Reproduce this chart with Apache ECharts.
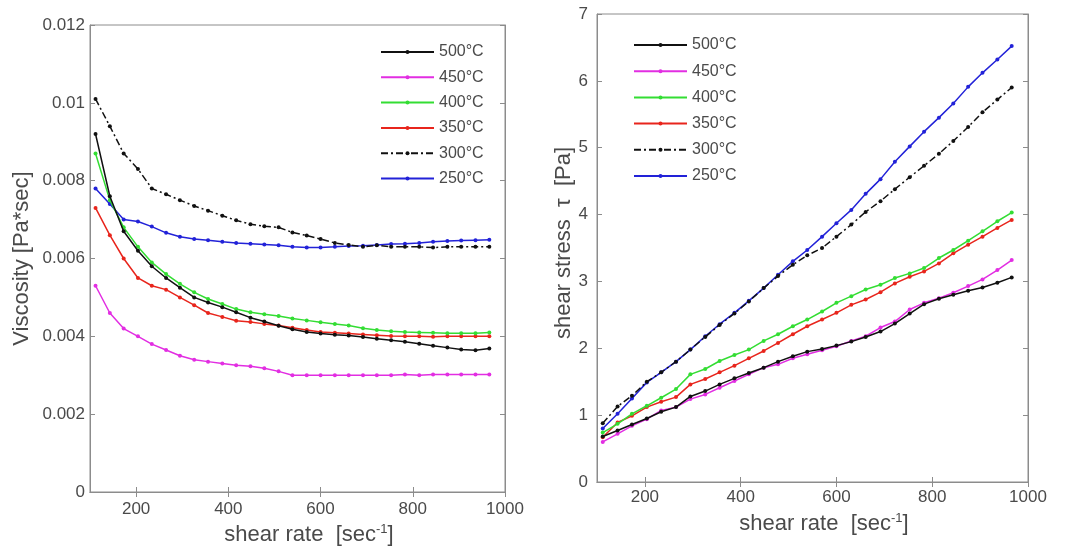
<!DOCTYPE html>
<html>
<head>
<meta charset="utf-8">
<script src="https://cdn.jsdelivr.net/npm/echarts@6/dist/echarts.min.js"></script>
<style>
  html, body { margin: 0; padding: 0; background: #fff; }
  #chart { width: 1070px; height: 554px; }
</style>
</head>
<body>
<div id="chart"></div>
<script>
// Shear rates at which both viscosity and shear stress were measured [1/s]
const shearRate = [112,143,173,204,234,265,295,326,356,387,417,448,478,509,539,570,600,631,661,692,722,753,783,814,844,875,905,936,966];

// Legend / series names (processing temperature)
const temps = ['500°C','450°C','400°C','350°C','300°C','250°C'];

// Viscosity [Pa*sec]
const visc500 = [0.0092,0.0076,0.0067,0.0062,0.0058,0.0055,0.00525,0.0050,0.00487,0.00475,0.00462,0.00448,0.00438,0.00427,0.00418,0.00411,0.00407,0.00404,0.00402,0.00398,0.00394,0.0039,0.00386,0.00381,0.00376,0.00371,0.00366,0.00364,0.00369];
const visc450 = [0.0053,0.0046,0.0042,0.0040,0.0038,0.00365,0.0035,0.0034,0.00335,0.0033,0.00326,0.00323,0.00318,0.0031,0.0030,0.0030,0.0030,0.0030,0.0030,0.0030,0.0030,0.0030,0.00302,0.0030,0.00302,0.00302,0.00302,0.00302,0.00302];
const visc400 = [0.0087,0.0075,0.0068,0.0063,0.0059,0.0056,0.00535,0.00513,0.00496,0.00483,0.0047,0.00462,0.00457,0.00452,0.00446,0.00441,0.00436,0.00432,0.00428,0.00421,0.00416,0.00413,0.00411,0.0041,0.00409,0.00408,0.00408,0.00408,0.0041];
const visc350 = [0.0073,0.0066,0.0060,0.0055,0.0053,0.0052,0.0050,0.0048,0.0046,0.0045,0.0044,0.00437,0.00432,0.00428,0.00422,0.00416,0.00411,0.00409,0.00407,0.00405,0.00403,0.00401,0.0040,0.0040,0.00399,0.0040,0.0040,0.0040,0.0040];
const visc300 = [0.0101,0.0094,0.0087,0.0083,0.0078,0.00765,0.0075,0.00735,0.00723,0.0071,0.00698,0.00688,0.00683,0.0068,0.00667,0.00659,0.0065,0.0064,0.00635,0.0063,0.00634,0.0063,0.0063,0.0063,0.00628,0.0063,0.0063,0.0063,0.0063];
const visc250 = [0.0078,0.0074,0.0070,0.00695,0.00682,0.00666,0.00656,0.0065,0.00647,0.00643,0.0064,0.00638,0.00636,0.00634,0.0063,0.00628,0.00628,0.0063,0.00632,0.00633,0.00635,0.00637,0.00638,0.0064,0.00643,0.00645,0.00646,0.00647,0.00648];

// Shear stress tau [Pa]
const stress500 = [0.68,0.77,0.86,0.95,1.05,1.12,1.28,1.36,1.46,1.55,1.63,1.71,1.8,1.88,1.95,1.99,2.04,2.1,2.17,2.25,2.37,2.52,2.66,2.74,2.8,2.86,2.91,2.98,3.06];
const stress450 = [0.6,0.72,0.84,0.94,1.07,1.12,1.24,1.31,1.41,1.51,1.61,1.71,1.76,1.85,1.91,1.97,2.03,2.11,2.18,2.31,2.4,2.58,2.68,2.75,2.83,2.93,3.03,3.17,3.32];
const stress400 = [0.74,0.87,1.02,1.14,1.26,1.39,1.61,1.69,1.81,1.9,1.98,2.11,2.21,2.33,2.43,2.55,2.68,2.78,2.88,2.95,3.05,3.12,3.2,3.35,3.47,3.61,3.75,3.9,4.03];
const stress350 = [0.67,0.89,0.99,1.12,1.2,1.27,1.46,1.54,1.64,1.74,1.85,1.96,2.08,2.21,2.33,2.43,2.53,2.65,2.73,2.84,2.97,3.07,3.15,3.27,3.42,3.55,3.67,3.8,3.92];
const stress300 = [0.88,1.13,1.29,1.5,1.64,1.8,1.98,2.17,2.35,2.52,2.7,2.9,3.08,3.25,3.39,3.5,3.67,3.85,4.04,4.2,4.38,4.56,4.73,4.91,5.1,5.31,5.53,5.72,5.9];
const stress250 = [0.8,1.02,1.25,1.49,1.64,1.8,1.98,2.18,2.36,2.53,2.71,2.9,3.1,3.3,3.47,3.67,3.87,4.07,4.31,4.53,4.79,5.02,5.24,5.45,5.66,5.91,6.12,6.32,6.52];

// Tick values and their printed labels
const rateTicks = [200, 400, 600, 800, 1000];
const rateTickLabels = ['200', '400', '600', '800', '1000'];
const viscTicks = [0, 0.002, 0.004, 0.006, 0.008, 0.01, 0.012];
const viscTickLabels = ['0', '0.002', '0.004', '0.006', '0.008', '0.01', '0.012'];
const stressTicks = [0, 1, 2, 3, 4, 5, 6, 7];

const viscSets = [visc500, visc450, visc400, visc350, visc300, visc250];
const stressSets = [stress500, stress450, stress400, stress350, stress300, stress250];

const colors = ['#111111', '#e22ee2', '#33dd33', '#e8251c', '#111111', '#2222d8'];
const dashes = ['solid', 'solid', 'solid', 'solid', [7, 3, 2, 3], 'solid'];

const FONT = 'Liberation Sans';
const TXT = '#4a4a4a';
const AX = '#8c8c8c';

function pairs(ys) {
  return shearRate.map((x, i) => [x, ys[i]]);
}

function labelOf(ticks, labels, v) {
  const i = ticks.findIndex(t => Math.abs(t - v) < 1e-9);
  return i < 0 ? '' : labels[i];
}

function xAxes(grid, labelMargin, nameGap) {
  const base = {
    type: 'value', gridIndex: grid, min: 100, max: 1000,
    axisLine: { show: true, lineStyle: { color: AX, width: 1 } },
    axisTick: { show: true, inside: true, length: 5, customValues: rateTicks, lineStyle: { color: AX } },
    splitLine: { show: false }
  };
  return [
    Object.assign({}, base, {
      position: 'bottom',
      axisLabel: {
        show: true, customValues: rateTicks, margin: labelMargin, fontSize: 17, color: TXT, fontFamily: FONT,
        formatter: v => labelOf(rateTicks, rateTickLabels, v)
      },
      name: 'shear rate  [sec{s|-1}]',
      nameLocation: 'middle', nameGap: nameGap,
      nameTextStyle: {
        fontSize: 22, color: TXT, fontFamily: FONT, lineHeight: 24, padding: [0, 0, 0, 23],
        rich: { s: { fontSize: 13, color: TXT, fontFamily: FONT, verticalAlign: 'top', lineHeight: 14 } }
      }
    }),
    Object.assign({}, base, { position: 'top', axisLabel: { show: false } })
  ];
}

function yAxes(grid, min, max, interval, fmt, labelMargin, name, nameGap, namePad) {
  const base = {
    type: 'value', gridIndex: grid, min: min, max: max, interval: interval,
    axisLine: { show: true, lineStyle: { color: AX, width: 1 } },
    axisTick: { show: true, inside: true, length: 5, lineStyle: { color: AX } },
    splitLine: { show: false }
  };
  return [
    Object.assign({}, base, {
      position: 'left',
      axisLabel: { show: true, margin: labelMargin, fontSize: 17, color: TXT, fontFamily: FONT, formatter: fmt },
      name: name, nameLocation: 'middle', nameGap: nameGap, nameRotate: 90,
      nameTextStyle: { fontSize: 22, color: TXT, fontFamily: FONT, padding: namePad }
    }),
    Object.assign({}, base, { position: 'right', axisLabel: { show: false } })
  ];
}

function makeSeries(sets, xi, yi) {
  return sets.map((ys, k) => ({
    name: temps[k],
    type: 'line',
    xAxisIndex: xi, yAxisIndex: yi,
    data: pairs(ys),
    symbol: 'circle', symbolSize: 4,
    showSymbol: true,
    color: colors[k],
    lineStyle: { color: colors[k], width: 1.5, type: dashes[k] },
    itemStyle: { color: colors[k] },
    z: 10 - k
  }));
}

function legend(left, top, gap) {
  return {
    data: temps, orient: 'vertical', left: left, top: top, padding: 0,
    itemWidth: 53, itemHeight: 5, itemGap: gap,
    textStyle: { fontSize: 16, color: TXT, fontFamily: FONT, lineHeight: 16 },
    selectedMode: false
  };
}

const option = {
  animation: false,
  backgroundColor: '#ffffff',
  grid: [
    { left: 90, top: 25, width: 415, height: 467, show: true, borderColor: AX, borderWidth: 1, backgroundColor: 'transparent' },
    { left: 597, top: 14, width: 431, height: 468, show: true, borderColor: AX, borderWidth: 1, backgroundColor: 'transparent' }
  ],
  xAxis: xAxes(0, 9, 28).concat(xAxes(1, 7, 30)),
  yAxis: yAxes(0, 0, 0.012, 0.002, v => labelOf(viscTicks, viscTickLabels, v), 5, 'Viscosity [Pa*sec]', 57, 0)
    .concat(yAxes(1, 0, 7, 1, v => String(stressTicks[Math.round(v)]), 9, 'shear stress  τ  [Pa]', 22, [0, 0, 0, 10])),
  legend: [legend(380, 44, 9.3), legend(633, 37, 10.2)],
  series: makeSeries(viscSets, 0, 0).concat(makeSeries(stressSets, 2, 2))
};

const chart = echarts.init(document.getElementById('chart'), null, { renderer: 'canvas' });
chart.setOption(option);
</script>
</body>
</html>
